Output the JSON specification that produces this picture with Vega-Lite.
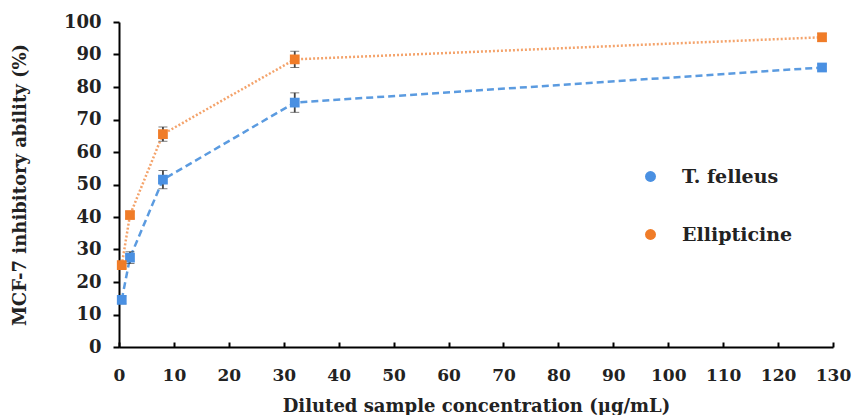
{
  "$schema": "https://vega.github.io/schema/vega-lite/v6.json",
  "width": 714,
  "height": 325,
  "autosize": "none",
  "padding": {"left": 119, "top": 22, "right": 30, "bottom": 68},
  "background": "white",
  "data": {
    "values": [
      {"conc": 0.5, "value": 14.5, "err": 1.2, "series": "T. felleus"},
      {"conc": 2, "value": 27.5, "err": 1.8, "series": "T. felleus"},
      {"conc": 8, "value": 51.5, "err": 2.8, "series": "T. felleus"},
      {"conc": 32, "value": 75.2, "err": 3.0, "series": "T. felleus"},
      {"conc": 128, "value": 86.0, "err": 1.0, "series": "T. felleus"},
      {"conc": 0.5, "value": 25.2, "err": 1.0, "series": "Ellipticine"},
      {"conc": 2, "value": 40.6, "err": 1.0, "series": "Ellipticine"},
      {"conc": 8, "value": 65.5, "err": 2.2, "series": "Ellipticine"},
      {"conc": 32, "value": 88.5, "err": 2.5, "series": "Ellipticine"},
      {"conc": 128, "value": 95.3, "err": 1.2, "series": "Ellipticine"}
    ]
  },
  "config": {
    "view": {"stroke": null},
    "font": "DejaVu Serif",
    "axis": {
      "grid": false,
      "domainColor": "black",
      "domainWidth": 2,
      "tickColor": "black",
      "tickWidth": 2,
      "tickSize": 6,
      "labelFlush": false,
      "labelOverlap": false,
      "labelFont": "DejaVu Serif",
      "labelFontSize": 17,
      "labelFontWeight": "bold",
      "labelColor": "#222",
      "titleFont": "DejaVu Serif",
      "titleFontSize": 18,
      "titleFontWeight": "bold",
      "titleColor": "#222"
    }
  },
  "encoding": {
    "x": {
      "field": "conc",
      "type": "quantitative",
      "scale": {"domain": [0, 130], "nice": false},
      "axis": {"values": [0,10,20,30,40,50,60,70,80,90,100,110,120,130], "title": "Diluted sample concentration (µg/mL)", "tickSize": -5, "labelPadding": 25, "titlePadding": 14}
    },
    "y": {
      "field": "value",
      "type": "quantitative",
      "scale": {"domain": [0, 100], "nice": false},
      "axis": {"values": [0,10,20,30,40,50,60,70,80,90,100], "title": "MCF-7 inhibitory ability (%)", "labelFontSize": 18, "labelPadding": 12, "titlePadding": 34}
    }
  },
  "layer": [
    {
      "transform": [{"filter": "datum.series === 'Ellipticine'"}],
      "mark": {"type": "line", "color": "#F4A36B", "strokeWidth": 2.5, "strokeDash": [2, 2]},
      "encoding": {}
    },
    {
      "transform": [{"filter": "datum.series === 'T. felleus'"}],
      "mark": {"type": "line", "color": "#5B9BE0", "strokeWidth": 2.5, "strokeDash": [7, 4]},
      "encoding": {}
    },
    {
      "mark": {"type": "errorbar", "ticks": {"size": 9, "color": "#444", "strokeWidth": 1.8}, "rule": {"color": "#444", "strokeWidth": 1.8}},
      "encoding": {
        "y": {"field": "value", "type": "quantitative"},
        "yError": {"field": "err"}
      }
    },
    {
      "mark": {"type": "point", "filled": true, "shape": "square", "size": 95, "opacity": 1},
      "encoding": {
        "color": {
          "field": "series",
          "type": "nominal",
          "scale": {"domain": ["T. felleus", "Ellipticine"], "range": ["#4A90E2", "#F07C28"]},
          "legend": {
            "title": null,
            "orient": "none",
            "legendX": 522,
            "legendY": 145,
            "symbolType": "circle",
            "symbolSize": 120,
            "symbolOpacity": 1,
            "labelFont": "DejaVu Serif",
            "labelFontSize": 19,
            "labelFontWeight": "bold",
            "labelColor": "#222",
            "rowPadding": 38,
            "labelOffset": 22
          }
        }
      }
    }
  ]
}
